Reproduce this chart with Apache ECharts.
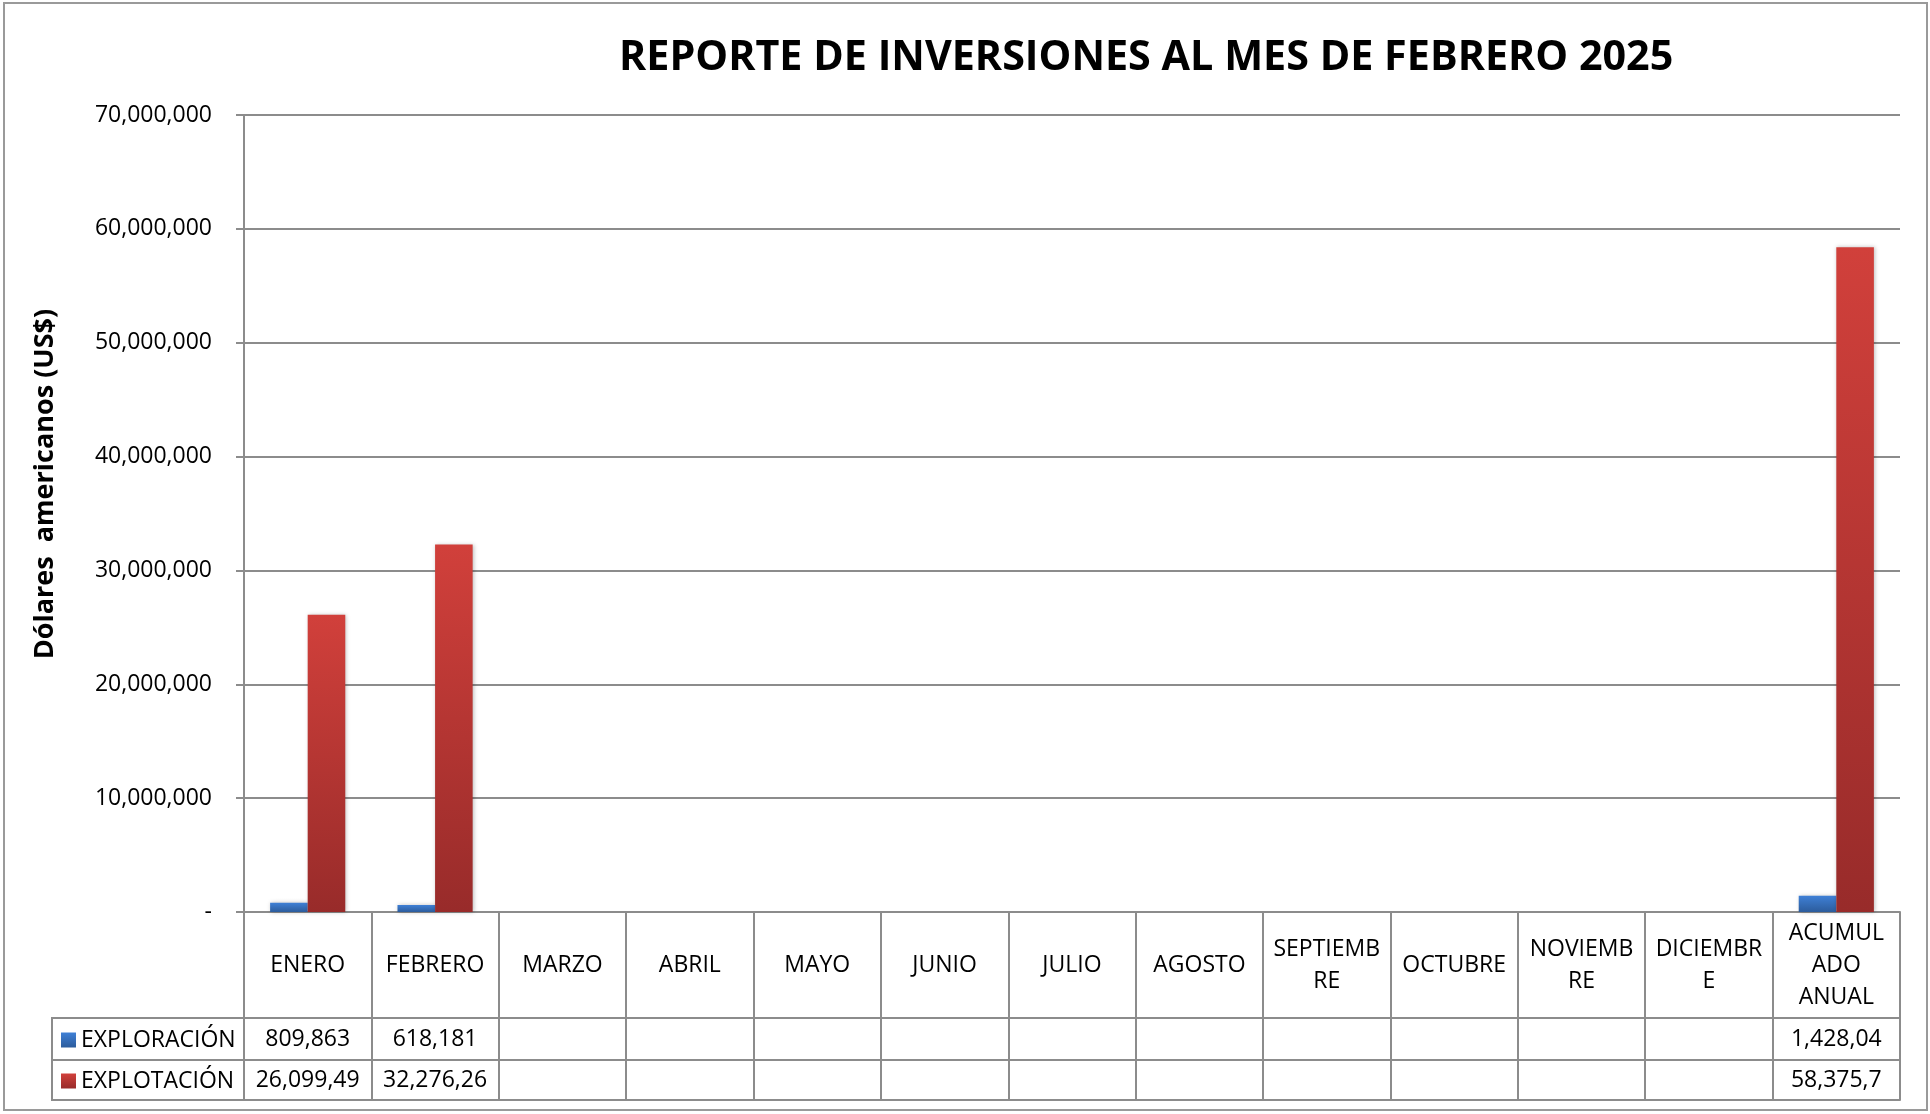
<!DOCTYPE html>
<html>
<head>
<meta charset="utf-8">
<title>Reporte de inversiones</title>
<script src="https://cdn.jsdelivr.net/npm/echarts@6/dist/echarts.min.js"></script>
<style>
  html, body { margin: 0; padding: 0; background: #fff; }
  #chart { width: 1930px; height: 1114px; }
</style>
</head>
<body>
<div id="chart"></div>
<script>
// datos
const meses = ['ENERO', 'FEBRERO', 'MARZO', 'ABRIL', 'MAYO', 'JUNIO', 'JULIO', 'AGOSTO',
  'SEPTIEMB\nRE', 'OCTUBRE', 'NOVIEMB\nRE', 'DICIEMBR\nE', 'ACUMUL\nADO\nANUAL']
const exploracion = [809863, 618181, null, null, null, null, null, null, null, null, null, null, 1428044]
const explotacion = [26099490, 32276260, null, null, null, null, null, null, null, null, null, null, 58375750]
// textos de la tabla tal como aparecen (recortados)
const tablaExploracion = ['809,863', '618,181', '', '', '', '', '', '', '', '', '', '', '1,428,04']
const tablaExplotacion = ['26,099,49', '32,276,26', '', '', '', '', '', '', '', '', '', '', '58,375,7']
const nombres = ['EXPLORACIÓN', 'EXPLOTACIÓN']

const fuente = '"Open Sans", sans-serif'
const gris = '#8c8c8c'

// layout
const gLeft = 244, gRight = 1900, gTop = 115, gBottom = 912
const fila1 = 1018, fila2 = 1060, fila3 = 1100, tablaLeft = 52

let chart = echarts.init(document.getElementById('chart'))

let azul = new echarts.graphic.LinearGradient(0, 0, 0, 1, [
  {offset: 0, color: '#3f80d6'},
  {offset: 1, color: '#2c5c9c'}
])
let rojo = new echarts.graphic.LinearGradient(0, 0, 0, 1, [
  {offset: 0, color: '#d1403b'},
  {offset: 1, color: '#982b2a'}
])

let filaEje = function (offset, margin, textos) {
  return {
    type: 'category',
    data: meses,
    position: 'bottom',
    offset: offset,
    axisLine: {show: true, lineStyle: {color: gris, width: 2}},
    axisTick: {show: false},
    splitLine: {show: false},
    axisLabel: {
      show: !!textos,
      interval: 0,
      margin: margin,
      verticalAlign: 'middle',
      fontSize: 23,
      fontFamily: fuente,
      color: '#000',
      formatter: function (v, i) { return textos ? textos[i] : '' }
    }
  }
}

let option = {
  animation: false,
  backgroundColor: '#fff',
  title: {
    text: 'REPORTE DE INVERSIONES AL MES DE FEBRERO 2025',
    left: 614,
    top: 33,
    textStyle: {fontFamily: fuente, fontWeight: 'bold', fontSize: 41.3, color: '#000'}
  },
  legend: {
    orient: 'vertical',
    left: 56,
    top: 1023,
    itemGap: 17,
    itemWidth: 15,
    itemHeight: 15,
    icon: 'rect',
    data: nombres,
    textStyle: {fontFamily: fuente, fontSize: 23, color: '#000', lineHeight: 24}
  },
  grid: {
    left: gLeft,
    right: 1930 - gRight,
    top: gTop,
    bottom: 1114 - gBottom
  },
  xAxis: [
    {
      type: 'category',
      data: meses,
      position: 'bottom',
      axisLine: {show: true, lineStyle: {color: gris, width: 2}},
      axisTick: {show: true, interval: 0, alignWithLabel: false, length: fila3 - gBottom, lineStyle: {color: gris, width: 2}},
      splitLine: {show: false},
      axisLabel: {
        interval: 0,
        margin: (fila1 - gBottom) / 2,
        verticalAlign: 'middle',
        align: 'center',
        lineHeight: 32,
        fontSize: 23,
        fontFamily: fuente,
        color: '#000'
      }
    },
    filaEje(fila1 - gBottom, (fila2 - fila1) / 2, tablaExploracion),
    filaEje(fila2 - gBottom, (fila3 - fila2) / 2, tablaExplotacion),
    filaEje(fila3 - gBottom, 0, null)
  ],
  yAxis: {
    type: 'value',
    min: 0,
    max: 70000000,
    interval: 10000000,
    axisLine: {show: true, lineStyle: {color: gris, width: 2}},
    axisTick: {show: true, length: 8, lineStyle: {color: gris, width: 2}},
    splitLine: {lineStyle: {color: gris, width: 2}},
    axisLabel: {
      margin: 32,
      fontSize: 23,
      fontFamily: fuente,
      color: '#000',
      formatter: function (v) { return v === 0 ? '-' : v.toLocaleString('en-US') }
    }
  },
  series: [
    {
      name: nombres[0],
      type: 'bar',
      data: exploracion,
      barGap: 0,
      barCategoryGap: '41%',
      itemStyle: {color: azul, shadowBlur: 4, shadowColor: 'rgba(0,0,0,0.25)', shadowOffsetX: 1}
    },
    {
      name: nombres[1],
      type: 'bar',
      data: explotacion,
      barGap: 0,
      barCategoryGap: '41%',
      itemStyle: {color: rojo, shadowBlur: 4, shadowColor: 'rgba(0,0,0,0.25)', shadowOffsetX: 1}
    }
  ],
  graphic: [
    // marco exterior
    {
      type: 'rect',
      shape: {x: 4, y: 3, width: 1923, height: 1107},
      style: {fill: 'none', stroke: '#9a9a9a', lineWidth: 2},
      silent: true
    },
    // columna de la leyenda en la tabla
    {
      type: 'polyline',
      shape: {points: [[gLeft, fila1], [tablaLeft, fila1], [tablaLeft, fila3], [gLeft, fila3]]},
      style: {fill: 'none', stroke: gris, lineWidth: 2},
      silent: true
    },
    {
      type: 'line',
      shape: {x1: tablaLeft, y1: fila2, x2: gLeft, y2: fila2},
      style: {stroke: gris, lineWidth: 2},
      silent: true
    },
    // titulo del eje
    {
      type: 'text',
      x: 45,
      y: 484,
      rotation: Math.PI / 2,
      style: {
        text: 'Dólares  americanos (US$)',
        font: 'bold 27px ' + fuente,
        fill: '#000',
        align: 'center',
        verticalAlign: 'middle'
      }
    }
  ]
}

chart.setOption(option)
</script>
</body>
</html>
